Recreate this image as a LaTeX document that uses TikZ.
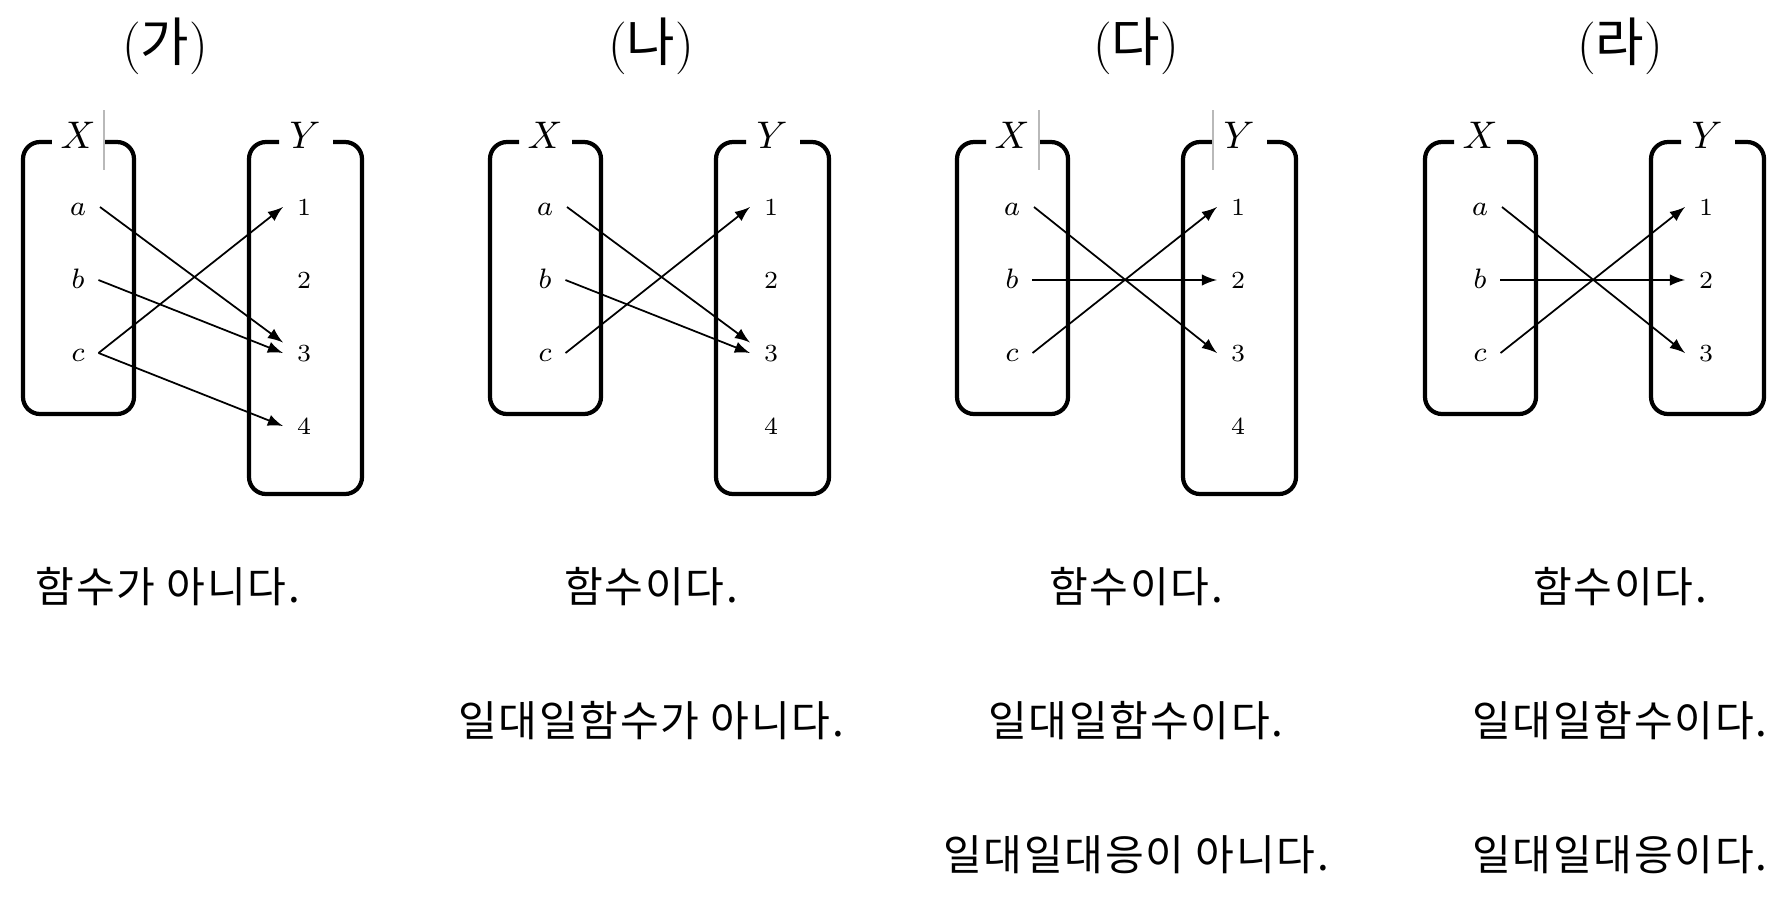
\documentclass[tikz,border=0pt]{standalone}
\usepackage{fontspec}
\newfontfamily\kr[LetterSpace=4]{Noto Sans CJK KR}
\begin{document}
\begin{tikzpicture}[
  setbox/.style={line width=1.2pt,rounded corners=0.17cm},
  elem/.style={inner xsep=3.8pt,text height=5pt,text depth=0pt,font=\fontsize{8}{9}\selectfont},
  num/.style={inner xsep=3.8pt,text height=5pt,text depth=0pt,font=\fontsize{7}{8}\selectfont},
  setname/.style={font=\fontsize{10.5}{12}\selectfont},
  mapto/.style={-latex,line width=0.5pt},
  title/.style={font=\fontsize{15}{18}\selectfont},
  remark/.style={font=\kr\fontsize{12}{14}\selectfont}
]
\useasboundingbox (0,0) rectangle (17.88,9.05);

% the two sets of each panel
\foreach \p/\L/\yb in {1/0.23/4.11, 2/4.90/4.11, 3/9.57/4.11, 4/14.25/4.91}
{
\draw[setbox] (\L+0.82,7.63) -- (\L+1.11,7.63) -- (\L+1.11,4.91) -- (\L,4.91) -- (\L,7.63) -- (\L+0.29,7.63);
\draw[setbox] (\L+3.10,7.63) -- (\L+3.39,7.63) -- (\L+3.39,\yb) -- (\L+2.26,\yb) -- (\L+2.26,7.63) -- (\L+2.56,7.63);
\node[setname] (X\p) at (\L+0.55,7.70) {$X$};
\node[setname] (Y\p) at (\L+2.82,7.70) {$Y$};
\node[elem] (x\p-a) at (\L+0.55,6.98) {$a$};
\node[elem] (x\p-b) at (\L+0.55,6.25) {$b$};
\node[elem] (x\p-c) at (\L+0.55,5.52) {$c$};
\node[num] (y\p-1) at (\L+2.81,6.98) {1};
\node[num] (y\p-2) at (\L+2.81,6.25) {2};
\node[num] (y\p-3) at (\L+2.81,5.52) {3};
}
\foreach \p/\L in {1/0.23, 2/4.90, 3/9.57}
\node[num] (y\p-4) at (\L+2.81,4.79) {4};

% thin marks
\draw[gray!55,line width=0.3pt] (1.04,7.95) -- (1.04,7.35);
\draw[gray!55,line width=0.3pt] (10.39,7.95) -- (10.39,7.35);
\draw[gray!55,line width=0.3pt] (12.13,7.95) -- (12.13,7.35);

% (가)
\draw[mapto] (x1-a.east) -- ([yshift=3pt]y1-3.west);
\draw[mapto] (x1-b.east) -- (y1-3.west);
\draw[mapto] (x1-c.east) -- (y1-1.west);
\draw[mapto] (x1-c.east) -- (y1-4.west);
% (나)
\draw[mapto] (x2-a.east) -- ([yshift=3pt]y2-3.west);
\draw[mapto] (x2-b.east) -- (y2-3.west);
\draw[mapto] (x2-c.east) -- (y2-1.west);
% (다), (라)
\foreach \p in {3,4}
{
\draw[mapto] (x\p-a.east) -- (y\p-3.west);
\draw[mapto] (x\p-b.east) -- (y\p-2.west);
\draw[mapto] (x\p-c.east) -- (y\p-1.west);
}

\node[title] (t1) at (1.65,8.59) {({\kr 가})};
\node[title] (t2) at (6.51,8.59) {({\kr 나})};
\node[title] (t3) at (11.36,8.59) {({\kr 다})};
\node[title] (t4) at (16.20,8.59) {({\kr 라})};

\node[remark] (r1-1) at (1.68,3.18) {함수가 아니다.};
\node[remark] (r2-1) at (6.51,3.18) {함수이다.};
\node[remark] (r2-2) at (6.51,1.84) {일대일함수가 아니다.};
\node[remark] (r3-1) at (11.36,3.18) {함수이다.};
\node[remark] (r3-2) at (11.36,1.84) {일대일함수이다.};
\node[remark] (r3-3) at (11.36,0.50) {일대일대응이 아니다.};
\node[remark] (r4-1) at (16.20,3.18) {함수이다.};
\node[remark] (r4-2) at (16.20,1.84) {일대일함수이다.};
\node[remark] (r4-3) at (16.20,0.50) {일대일대응이다.};

\end{tikzpicture}
\end{document}
